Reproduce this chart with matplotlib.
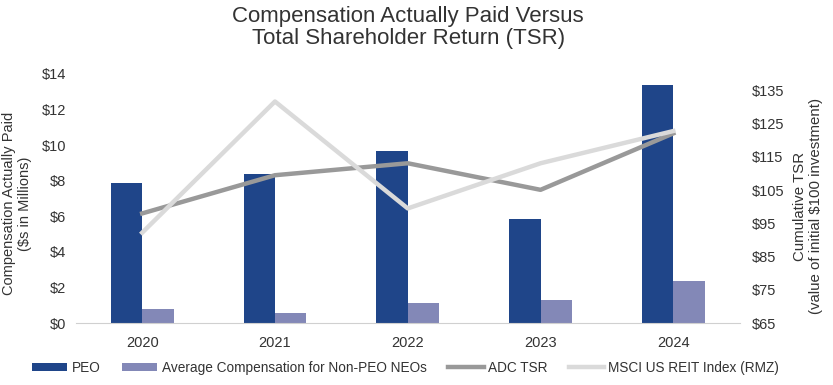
import matplotlib.pyplot as plt
import numpy as np

plt.rcParams['font.family'] = ['Liberation Sans', 'DejaVu Sans']

years = ['2020', '2021', '2022', '2023', '2024']
peo = [7.88, 8.37, 9.68, 5.84, 13.37]
non_peo = [0.79, 0.54, 1.14, 1.27, 2.38]
adc_tsr = [98.0, 109.5, 113.1, 105.1, 122.1]
msci_rmz = [92.2, 131.7, 99.5, 113.1, 122.8]

left_ticks = [0, 2, 4, 6, 8, 10, 12, 14]
right_ticks = [65, 75, 85, 95, 105, 115, 125, 135]

fig = plt.figure(figsize=(8.33, 3.85), dpi=100)
ax = fig.add_axes([0.091, 0.161, 0.797, 0.647])
ax2 = ax.twinx()

x = np.arange(len(years))
w = 0.236
ax.bar(x - w / 2, peo, w, color='#1F4589', label='PEO')
ax.bar(x + w / 2, non_peo, w, color='#8388B7', label='Average Compensation for Non-PEO NEOs')
ax2.plot(x, adc_tsr, color='#999999', lw=3.2, label='ADC TSR')
ax2.plot(x, msci_rmz, color='#DADADA', lw=3.2, label='MSCI US REIT Index (RMZ)')

ax.set_xlim(-0.5, 4.5)
ax.set_ylim(0, 14)
ax2.set_ylim(65, 140)
ax.set_xticks(x)
ax.set_xticklabels(years)
ax.set_yticks(left_ticks)
ax.set_yticklabels([r'\$%d' % v for v in left_ticks])
ax2.set_yticks(right_ticks)
ax2.set_yticklabels([r'\$%d' % v for v in right_ticks])

for a in (ax, ax2):
    for s in a.spines.values():
        s.set_visible(False)
    a.tick_params(length=0, labelsize=10.5, colors='#333333')
ax.spines['bottom'].set_visible(True)
ax.spines['bottom'].set_color('#D0D0D0')
ax.tick_params(axis='y', pad=7)
ax.tick_params(axis='x', pad=9)
ax2.tick_params(axis='y', pad=9)

ax.set_ylabel('Compensation Actually Paid\n(\\$s in Millions)', fontsize=10.5, color='#333333', labelpad=7)
ax2.set_ylabel('Cumulative TSR\n(value of initial \\$100 investment)', fontsize=10.8, color='#333333',
               rotation=90, labelpad=6)
ax.yaxis.label.set_y(0.48)
ax2.yaxis.label.set_y(0.47)

fig.suptitle('Compensation Actually Paid Versus\nTotal Shareholder Return (TSR)', fontsize=16,
             color='#333333', x=0.49, y=0.985, linespacing=1.1)

h1, l1 = ax.get_legend_handles_labels()
h2, l2 = ax2.get_legend_handles_labels()
fig.legend(h1 + h2, l1 + l2, loc='lower center', bbox_to_anchor=(0.487, -0.005), ncol=4, frameon=False,
           fontsize=9.8, handlelength=2.6, handleheight=0.5, columnspacing=1.6, handletextpad=0.3,
           labelcolor='#333333')

fig.savefig('out.png', dpi=100)
